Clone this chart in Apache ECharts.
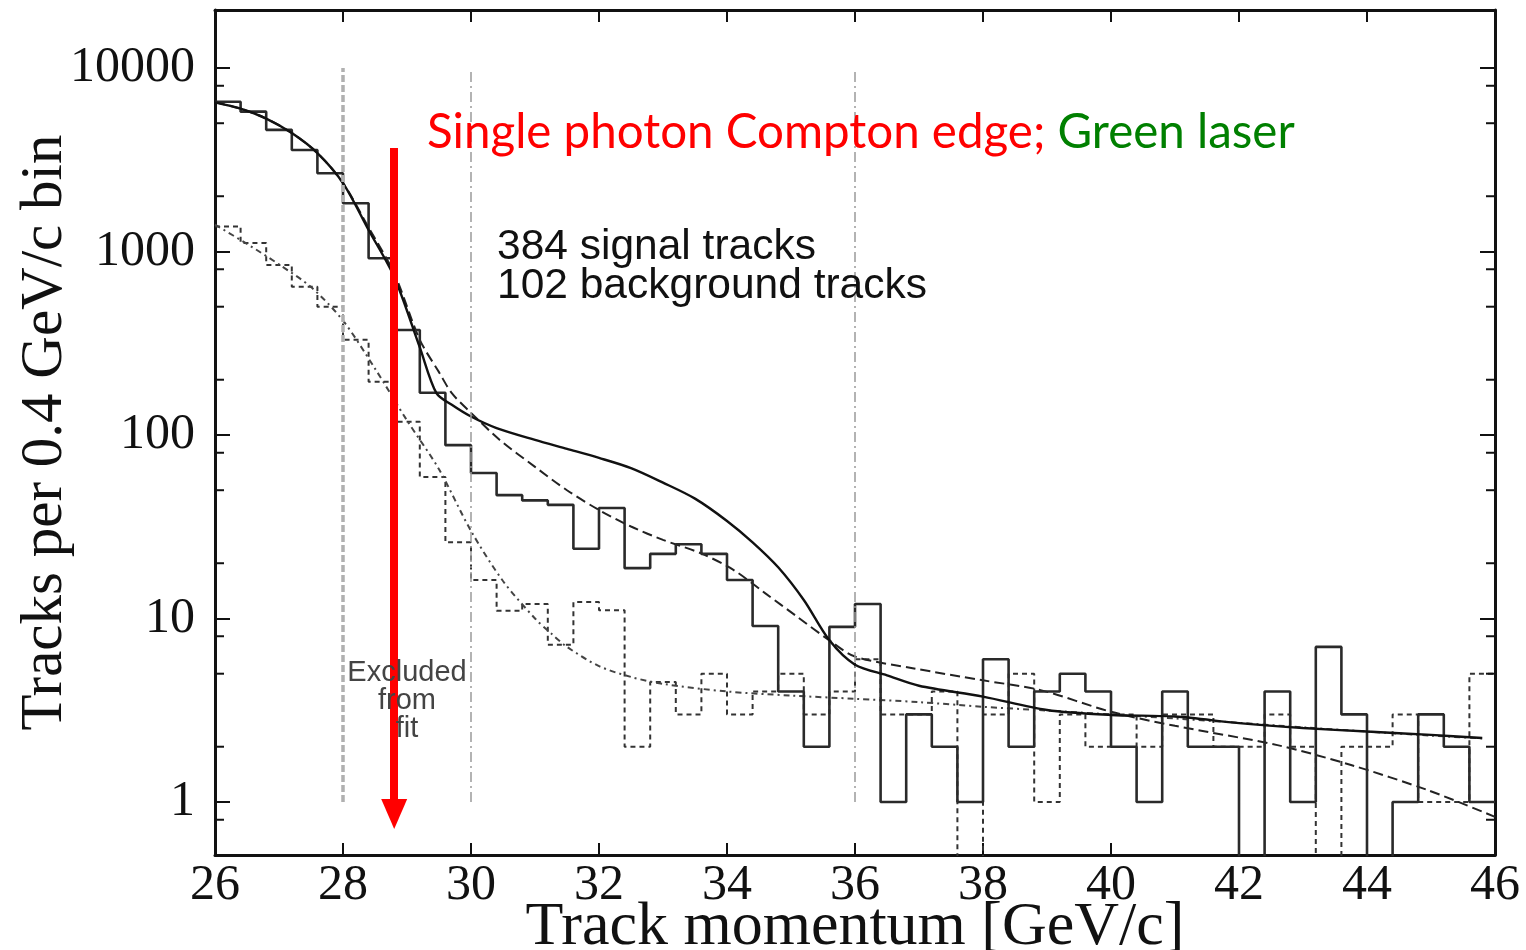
<!DOCTYPE html>
<html>
<head>
<meta charset="utf-8">
<script src="https://cdn.jsdelivr.net/npm/echarts@6/dist/echarts.min.js"></script>
<style>
html,body{margin:0;padding:0;background:#fff;}
#chart{width:1526px;height:950px;}
</style>
</head>
<body>
<div id="chart"></div>
<script>
// ---- data ----
const binStart = 26, binWidth = 0.4;
// signal histogram (tracks per 0.4 GeV/c bin), 50 bins from 26 to 46
const signalCounts = [6550, 5780, 4600, 3570, 2670, 1830, 918, 373, 170, 88,
  62, 47, 44, 41.6, 24, 40, 18.8, 22.5, 25.4, 22.5,
  16.2, 9.1, 4, 2, 9, 12, 1, 3, 2, 1,
  6, 2, 4, 5, 4, 2, 1, 4, 2, 2,
  0, 4, 1, 7, 3, 0, 1, 3, 2, 1];
// background histogram
const backgroundCounts = [1370, 1113, 844, 643, 500, 330, 195, 118, 59, 26,
  16.2, 11, 12, 7.2, 12.3, 11.1, 2, 4.5, 3, 5,
  3, 4, 5, 3, 4, 6, 3, 3, 4, 0,
  3, 5, 1, 3, 2, 3, 2, 3, 3, 2,
  2, 3, 2, 0, 2, 2, 3, 1, 1, 5];
// fit curves
const fitSolidX = [26.0, 26.4, 26.8, 27.2, 27.6, 28.0, 28.4, 28.8, 29.2, 29.46, 29.7, 30.0, 30.4, 31.0, 31.5, 32.0, 32.5, 33.0, 33.5, 34.0, 34.4, 34.8, 35.2, 35.6, 36.0, 36.5, 37.0, 38.0, 39.0, 40.0, 41.0, 42.0, 43.0, 44.0, 45.0, 45.8];
const fitSolidY = [6500, 6000, 5300, 4420, 3440, 2360, 1310, 726, 300, 169, 146, 126, 109, 94, 84, 75, 66, 55, 45, 34, 26, 19, 12.6, 7.6, 5.6, 4.9, 4.3, 3.75, 3.17, 2.98, 2.92, 2.69, 2.53, 2.42, 2.32, 2.23];
const fitDashX = [26.0, 26.4, 26.8, 27.2, 27.6, 28.0, 28.4, 28.8, 29.2, 29.5, 29.7, 30.0, 30.45, 31.0, 31.5, 32.0, 32.5, 33.0, 33.6, 34.1, 34.6, 35.1, 35.6, 36.0, 36.9, 38.0, 38.9, 40.0, 41.0, 42.6, 43.75, 44.95, 46.0];
const fitDashY = [6500, 6000, 5300, 4420, 3440, 2360, 1350, 760, 330, 220, 169, 132, 94, 67, 50, 39, 31.7, 26.8, 22.6, 18.4, 13.7, 10.2, 7.6, 6.2, 5.36, 4.6, 4.07, 3.1, 2.6, 2.04, 1.59, 1.16, 0.83];
const fitBgX = [26.0, 26.5, 27.0, 27.5, 28.0, 28.5, 29.0, 29.5, 30.0, 30.5, 31.0, 31.25, 31.5, 32.0, 32.5, 33.0, 34.0, 35.0, 36.0, 37.0, 38.0, 39.0, 40.0, 41.0, 42.0, 43.0, 44.0, 45.0, 45.8];
const fitBgY = [1400, 1100, 850, 640, 420, 230, 120, 65, 30, 16, 10, 8.3, 7, 5.5, 4.8, 4.4, 4.0, 3.8, 3.65, 3.5, 3.3, 3.15, 3.0, 2.85, 2.7, 2.55, 2.42, 2.3, 2.22];
// axes
const xTicks = [26, 28, 30, 32, 34, 36, 38, 40, 42, 44, 46];
const yMinorTicks = [0.8, 2, 5, 8, 20, 50, 80, 200, 500, 800, 2000, 5000, 8000];
const guideLinesX = [28, 30, 36];
const arrowX = 28.8, arrowTop = 3660, arrowBottom = 0.86;

// ---- build ----
function histPoints(counts) {
  const pts = counts.map((c, i) => [binStart + i * binWidth, c > 0 ? c : 0.02]);
  pts.push([binStart + counts.length * binWidth, counts[counts.length - 1] > 0 ? counts[counts.length - 1] : 0.02]);
  return pts;
}
const zip = (xs, ys) => xs.map((x, i) => [x, ys[i]]);

const yMin = 0.514, yMax = 20700;
const serif = 'Liberation Serif';
const chart = echarts.init(document.getElementById('chart'));
const option = {
  animation: false,
  backgroundColor: '#fff',
  grid: { left: 215, right: 31, top: 10, bottom: 95, containLabel: false, outerBoundsMode: 'none' },
  xAxis: [{
    type: 'value', min: 26, max: 46, interval: 2, position: 'bottom',
    name: 'Track momentum [GeV/c]', nameLocation: 'middle', nameGap: 42, nameMoveOverlap: false,
    nameTextStyle: { fontFamily: serif, fontSize: 62, color: '#111' },
    axisLine: { show: true, lineStyle: { color: '#111', width: 3 } },
    axisTick: { show: true, inside: true, length: 12, lineStyle: { color: '#111', width: 2 } },
    axisLabel: { fontFamily: serif, fontSize: 50, color: '#111', margin: 6 },
    splitLine: { show: false }
  }, {
    type: 'value', min: 26, max: 46, interval: 2, position: 'top',
    axisLine: { show: true, lineStyle: { color: '#111', width: 3 } },
    axisTick: { show: true, inside: true, length: 12, lineStyle: { color: '#111', width: 2 } },
    axisLabel: { show: false }, splitLine: { show: false }
  }],
  yAxis: [{
    type: 'log', logBase: 10, min: yMin, max: yMax, position: 'left',
    name: 'Tracks per 0.4 GeV/c bin', nameLocation: 'middle', nameGap: 140, nameMoveOverlap: false,
    nameTextStyle: { fontFamily: serif, fontSize: 59, color: '#111' },
    axisLine: { show: true, lineStyle: { color: '#111', width: 3 } },
    axisTick: { show: true, inside: true, length: 15, lineStyle: { color: '#111', width: 2 } },
    axisLabel: { fontFamily: serif, fontSize: 50, color: '#111', margin: 20,
      showMinLabel: false, showMaxLabel: false,
      formatter: v => String(Math.round(v)) },
    splitLine: { show: false }
  }, {
    type: 'log', logBase: 10, min: yMin, max: yMax, position: 'right',
    axisLine: { show: true, lineStyle: { color: '#111', width: 3 } },
    axisTick: { show: true, inside: true, length: 15, lineStyle: { color: '#111', width: 2 } },
    axisLabel: { show: false }, splitLine: { show: false }
  }],
  series: [
    {
      name: 'guides', type: 'line', data: [], silent: true,
      markLine: {
        silent: true, symbol: ['none', 'none'], label: { show: false },
        data: guideLinesX.map((gx, i) => [
          { coord: [gx, 1], lineStyle: i === 0 ? { color: '#b0b0b0', width: 3.5, type: [7, 3] } : { color: '#9a9a9a', width: 1.5, type: [10, 4, 2, 4] } },
          { coord: [gx, 10000] }
        ])
      },
      z: 1
    },
    {
      name: 'minor ticks', type: 'custom', silent: true,
      data: yMinorTicks.map(v => [26, v]),
      renderItem: (params, api) => {
        const y = api.coord([26, api.value(1)])[1];
        const cs = params.coordSys;
        const st = { stroke: '#111', lineWidth: 2 };
        return { type: 'group', children: [
          { type: 'line', shape: { x1: cs.x, y1: y, x2: cs.x + 9, y2: y }, style: st },
          { type: 'line', shape: { x1: cs.x + cs.width - 9, y1: y, x2: cs.x + cs.width, y2: y }, style: st }
        ] };
      },
      z: 5
    },
    {
      name: 'background', type: 'line', step: 'end', data: histPoints(backgroundCounts),
      symbol: 'none', clip: true,
      lineStyle: { color: '#333', width: 2, type: [5, 4] }, z: 3
    },
    {
      name: 'signal', type: 'line', step: 'end', data: histPoints(signalCounts),
      symbol: 'none', clip: true,
      lineStyle: { color: '#2a2a2a', width: 2.6 }, z: 4
    },
    {
      name: 'fit background', type: 'line', smooth: 0.3, data: zip(fitBgX, fitBgY),
      symbol: 'none', clip: true,
      lineStyle: { color: '#444', width: 2, type: [6, 4, 2, 4] }, z: 3
    },
    {
      name: 'fit dashed', type: 'line', smooth: 0.3, data: zip(fitDashX, fitDashY),
      symbol: 'none', clip: true,
      lineStyle: { color: '#222', width: 2, type: [10, 5] }, z: 3
    },
    {
      name: 'fit solid', type: 'line', smooth: 0.3, data: zip(fitSolidX, fitSolidY),
      symbol: 'none', clip: true,
      lineStyle: { color: '#111', width: 2.4 }, z: 4
    },
    {
      name: 'arrow', type: 'line', data: [], silent: true,
      markLine: {
        silent: true, symbol: ['none', 'triangle'], symbolSize: [26, 30],
        label: { show: false },
        lineStyle: { color: '#ff0000', width: 8, type: 'solid' },
        data: [[{ coord: [arrowX, arrowTop] }, { coord: [arrowX, arrowBottom] }]]
      },
      z: 20
    }
  ],
  graphic: [
    {
      type: 'text', x: 407, y: 659, z: 10,
      style: { text: 'Excluded\nfrom\nfit', fontFamily: 'Liberation Sans', fontSize: 29, lineHeight: 28,
        fill: '#444', align: 'center', textAlign: 'center' }
    },
    {
      type: 'text', left: 497, top: 226, z: 10,
      style: { text: '384 signal tracks\n102 background tracks', fontFamily: 'Liberation Sans',
        fontSize: 42.5, lineHeight: 39, fill: '#111' }
    },
    {
      type: 'text', left: 427, top: 109, z: 30,
      style: {
        text: '{r|Single photon Compton edge; }{g|Green laser}',
        rich: {
          r: { fontFamily: 'Lato', fontSize: 47.5, fill: '#ff0000', color: '#ff0000' },
          g: { fontFamily: 'Lato', fontSize: 47.5, fill: '#008000', color: '#008000' }
        }
      }
    }
  ]
};
chart.setOption(option);
</script>
</body>
</html>
